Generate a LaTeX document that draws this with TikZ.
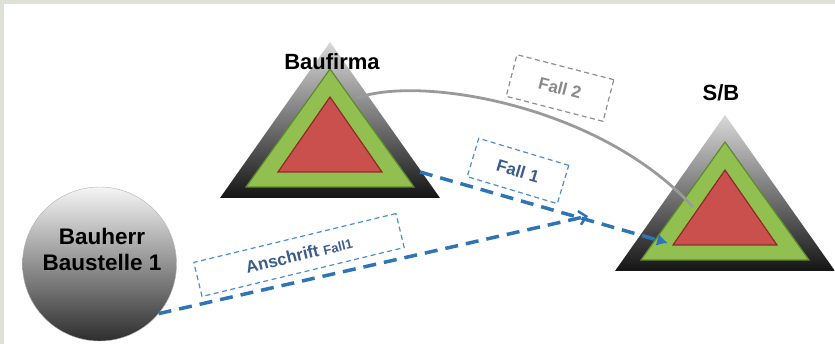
\documentclass[tikz,border=0pt]{standalone}
\usepackage{fontspec}
\setmainfont{Liberation Sans}
\usetikzlibrary{arrows.meta}
\definecolor{framec}{HTML}{DDE1D6}
\definecolor{grnf}{HTML}{92C050}
\definecolor{grnd}{HTML}{5E8A2E}
\definecolor{redf}{HTML}{C9504D}
\definecolor{redd}{HTML}{8E2B28}
\definecolor{bline}{HTML}{2F75B5}
\definecolor{bbox}{HTML}{4A90D0}
\definecolor{btext}{HTML}{3B5C8C}
\definecolor{gbox}{HTML}{8E8E8E}
\definecolor{gtext}{HTML}{8A8A8A}
\definecolor{gcurve}{HTML}{9A9A9A}
\tikzset{
  pics/layered/.style={code={
    \shade[top color=gray!30, middle color=gray!65, bottom color=black!92]
      (0,0) -- (110,156) -- (-110,156) -- cycle;
    \filldraw[fill=grnf, draw=grnd, line width=1.2pt]
      (0,27) -- (84,145) -- (-84,145) -- cycle;
    \filldraw[fill=redf, draw=redd, line width=1.2pt]
      (0,55) -- (52,130) -- (-52,130) -- cycle;
  }},
  lbl/.style={draw, dash pattern=on 5pt off 3.5pt, line width=1.2pt, inner sep=0pt,
    font=\bfseries\fontsize{17}{17}\selectfont},
  title/.style={font=\bfseries\fontsize{22}{22}\selectfont, text=black},
  flow/.style={draw=bline, line width=3.5pt, dash pattern=on 13pt off 8pt}
}
\begin{document}
\begin{tikzpicture}[x=1pt,y=-1pt]
\useasboundingbox (0,0) rectangle (835,344);
\fill[framec] (0,0) rectangle (835,344);
\fill[white] (4,4) rectangle (835,344);

% triangles
\pic at (330,42) {layered};
\pic at (725,115) {layered};

% titles
\node[title] (bft) at (332,62) {Baufirma};
\node[title] (sbt) at (721,93) {S/B};

% circle
\node[circle, minimum size=154pt, inner sep=0pt, draw=gray!60, line width=0.4pt,
      top color=gray!8, middle color=gray!32, bottom color=black!82,
      shading angle=0] (bh) at (99.5,264) {};
\node[align=center, font=\bfseries\fontsize{22.5}{26}\selectfont] (bhtxt) at (102,249)
  {Bauherr\\Baustelle 1};

% connector end points
\coordinate (bfR) at (420,172);
\coordinate (sbL) at (668,243);
\coordinate (bfT) at (357,98);
\coordinate (sbT) at (693,207);
\coordinate (ah) at (588,216);

% gray curve
\draw[gcurve, line width=2.8pt] (bfT) .. controls (420,75) and (600,105) .. (sbT);

% labels
\node[lbl, draw=gbox, text=gtext, minimum width=100pt, minimum height=43pt, rotate=-14.5]
  (f2) at (560,88) {Fall 2};
\node[lbl, draw=bbox, text=btext, minimum width=94pt, minimum height=40pt, rotate=-16.7]
  (f1) at (518,171) {Fall 1};
\node[lbl, draw=bbox, text=btext, minimum width=208pt, minimum height=35pt, rotate=13.6]
  (an) at (299,255) {Anschrift {\fontsize{13}{13}\selectfont Fall1}};

% blue dashed arrows
\draw[flow, -{Latex[length=11pt,width=12pt]}] (bfR) -- (sbL);
\draw[flow, -{Straight Barb[length=7pt,width=14pt,line width=2.5pt]}] (bh.-40) -- (ah);
\end{tikzpicture}
\end{document}
